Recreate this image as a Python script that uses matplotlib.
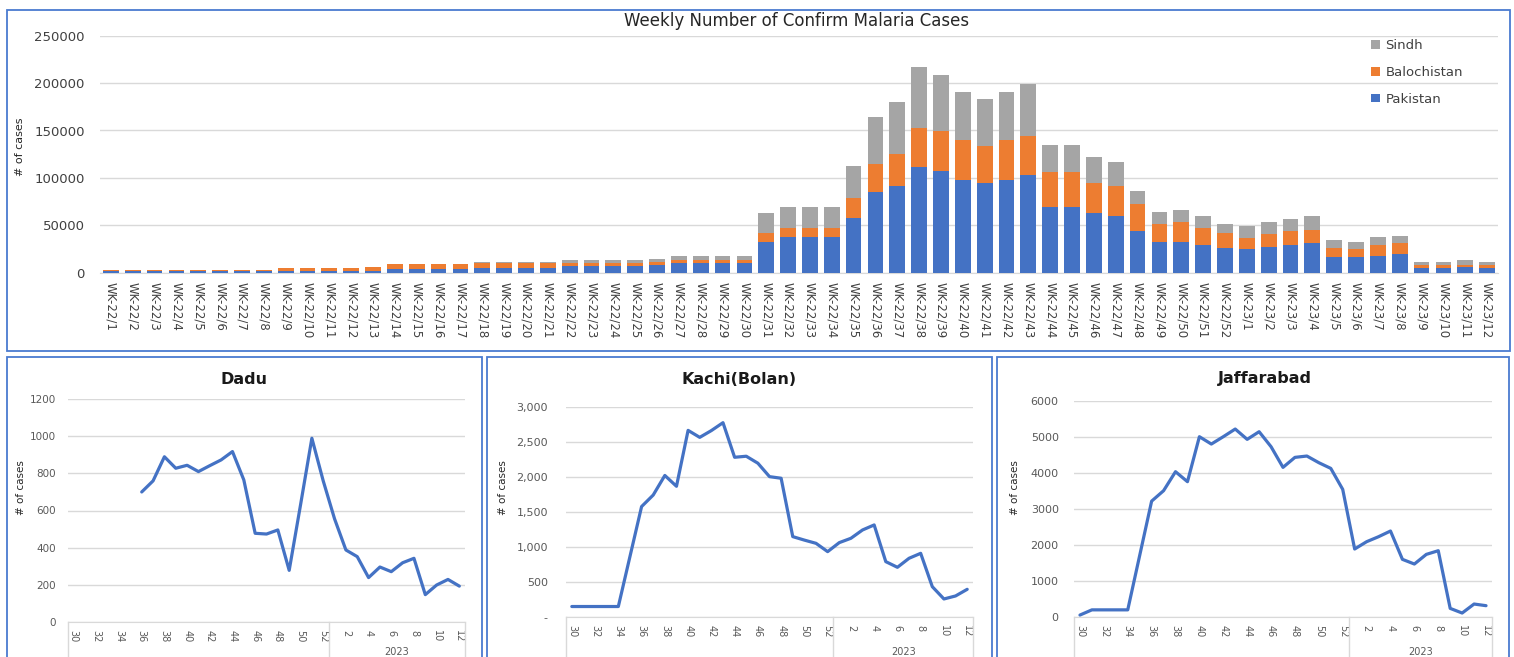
import matplotlib
matplotlib.use("Agg")
import matplotlib.pyplot as plt
import numpy as np
from matplotlib.patches import Rectangle
from matplotlib.ticker import FuncFormatter, MultipleLocator
import matplotlib.transforms as mtransforms

# ---------------- data ----------------
week_labels = [f"WK-22/{i}" for i in range(1, 53)] + [f"WK-23/{i}" for i in range(1, 13)]

pakistan = [2300, 2300, 2300, 2300, 2300, 2300, 2300, 2300,
            2100, 2100, 2100, 2100, 2100,
            3900, 3900, 3900, 3900,
            5300, 5300, 5300, 5300,
            6700, 6700, 6700, 6700, 8100,
            9800, 9800, 9800, 9800,
            32300, 37300, 37300, 37300, 58000, 85100, 91800, 111100, 107600,
            98100, 94900, 98100, 103000, 68900, 68900, 62900, 59800, 43600,
            32300, 32300, 29200, 26000,
            24600, 27400, 29200, 30900, 16200, 16200, 17900, 19700,
            5300, 5300, 6300, 5300]
balochistan = [500, 500, 500, 500, 500, 500, 500, 500,
               2800, 2800, 2800, 2800, 4200,
               5600, 5600, 5600, 5600,
               5000, 5000, 5000, 5000,
               3500, 3500, 3500, 3500, 3500,
               3600, 3600, 3600, 3600,
               9500, 9500, 9500, 9500, 20800, 29200, 33700, 41900, 41800,
               41800, 38700, 41800, 41500, 36900, 36900, 32000, 32000, 28800,
               19000, 20800, 17600, 15800,
               12300, 13000, 14400, 14500, 9800, 8400, 11300, 11200,
               2800, 2800, 1800, 2800]
sindh = [0, 0, 0, 0, 0, 0, 0, 0,
         0, 0, 0, 0, 0,
         0, 0, 0, 0,
         500, 500, 500, 500,
         2800, 2800, 2800, 2800, 3200,
         4200, 4200, 4200, 4200,
         20800, 22100, 22100, 22100, 33700, 49600, 54200, 63600, 59100,
         51000, 49200, 51000, 54500, 28900, 28900, 27100, 25300, 14100,
         13000, 12600, 12600, 9500,
         12700, 12700, 12700, 14000, 8100, 7700, 8100, 7800,
         3200, 3200, 4900, 3200]

# district panels: weeks 30..52 of 2022 then 1..12 of 2023
district_weeks = [30, 31, 32, 33, 34, 35, 36, 37, 38, 39, 40, 41, 42, 43, 44, 45,
                  46, 47, 48, 49, 50, 51, 52, 1, 2, 3, 4, 5, 6, 7, 8, 9, 10, 11, 12]
dadu = [np.nan, np.nan, np.nan, np.nan, np.nan, np.nan,
        700, 760, 890, 828, 844, 810, 842, 873, 918, 765, 477, 473, 495, 277,
        630, 990, 760, 555,
        387, 351, 238, 295, 270, 318, 342, 146, 198, 228, 192]
kachi = [150, 150, 150, 150, 150, 865,
         1580, 1745, 2025, 1870, 2670, 2570, 2667, 2780, 2285, 2300, 2200, 2008, 1985, 1150,
         1100, 1054, 935, 1064,
         1126, 1245, 1317, 792, 711, 840, 911, 434, 258, 301, 396]
jaffarabad = [46, 190, 190, 190, 190, 1700,
              3210, 3500, 4028, 3750, 5000, 4796, 5000, 5213, 4926, 5139, 4722, 4148, 4426, 4463,
              4278, 4120, 3537, 1880,
              2083, 2222, 2380, 1593, 1463, 1731, 1833, 231, 102, 352, 306]

# ---------------- styles ----------------
W, H = 1514, 657
BLUE = "#4472C4"
ORANGE = "#ED7D31"
GRAY = "#A5A5A5"
GRID = "#D9D9D9"
TXT = "#595959"
BORDER = "#4A7BD0"

plt.rcParams["font.family"] = ["DejaVu Sans"]

fig = plt.figure(figsize=(W / 100, H / 100), dpi=100)
fig.patch.set_facecolor("white")


def px_axes(x0, x1, ytop, ybot):
    return fig.add_axes([x0 / W, 1 - ybot / H, (x1 - x0) / W, (ybot - ytop) / H])


def fig_text(x, y, s, **kw):
    fig.text(x / W, 1 - y / H, s, **kw)


def panel(x0, x1, y0, y1):
    fig.add_artist(Rectangle((x0 / W, 1 - y1 / H), (x1 - x0) / W, (y1 - y0) / H,
                             transform=fig.transFigure, fill=False,
                             edgecolor=BORDER, linewidth=1.3, clip_on=False))


# ---------------- panels ----------------
panel(7, 1510, 10, 351)
panel(7, 482, 357, 700)
panel(487, 992, 357, 700)
panel(997, 1509, 357, 700)

# ---------------- top stacked bar chart ----------------
ax = px_axes(100, 1498, 35.7, 272.7)
x = np.arange(len(week_labels))
pak = np.array(pakistan)
bal = np.array(balochistan)
sin = np.array(sindh)
bw = 0.72
b1 = ax.bar(x, pak, width=bw, color=BLUE, label="Pakistan", zorder=3)
b2 = ax.bar(x, bal, width=bw, bottom=pak, color=ORANGE, label="Balochistan", zorder=3)
b3 = ax.bar(x, sin, width=bw, bottom=pak + bal, color=GRAY, label="Sindh", zorder=3)
ax.set_xlim(-0.5, len(week_labels) - 0.5)
ax.set_ylim(0, 250000)
ax.yaxis.set_major_locator(MultipleLocator(50000))
ax.set_xticks(x)
ax.set_xticklabels(week_labels, rotation=270, fontsize=8.5, color="#404040")
ax.tick_params(axis="x", length=0, pad=7)
ax.tick_params(axis="y", length=0, pad=11, labelsize=9.5, labelcolor="#404040")
ax.grid(axis="y", color=GRID, linewidth=1, zorder=0)
ax.set_axisbelow(True)
for s in ("top", "right", "left"):
    ax.spines[s].set_visible(False)
ax.spines["bottom"].set_color(GRID)
ax.legend(handles=[b3, b2, b1], loc="upper left",
          bbox_to_anchor=(1371 / W, 1 - 39 / H), bbox_transform=fig.transFigure,
          frameon=False, fontsize=9.5, handlelength=0.65, handleheight=0.65,
          handletextpad=0.45, labelspacing=1.05, borderpad=0, borderaxespad=0,
          labelcolor="#404040")
fig_text(797, 21, "Weekly Number of Confirm Malaria Cases", fontsize=12,
         ha="center", va="center", color="#262626")
fig_text(20, 147, "# of cases", fontsize=8, rotation=90, ha="center", va="center",
         color="#262626")

# ---------------- district line charts ----------------
tick_pos = [i for i in range(len(district_weeks)) if district_weeks[i] % 2 == 0]
tick_lab = [str(district_weeks[i]) for i in tick_pos]


def district(ax, data, ymax, step, fmt, ysize, ypad):
    xx = np.arange(len(district_weeks))
    ax.plot(xx, data, color=BLUE, linewidth=2.3, zorder=3, solid_capstyle="round")
    ax.set_xlim(-0.5, len(district_weeks) - 0.5)
    ax.set_ylim(0, ymax)
    ax.yaxis.set_major_locator(MultipleLocator(step))
    ax.yaxis.set_major_formatter(FuncFormatter(fmt))
    ax.set_xticks(tick_pos)
    ax.set_xticklabels(tick_lab, rotation=270, fontsize=7, color=TXT)
    ax.tick_params(axis="x", length=0, pad=6)
    ax.tick_params(axis="y", length=0, pad=ypad, labelsize=ysize, labelcolor=TXT)
    ax.grid(axis="y", color=GRID, linewidth=1, zorder=0)
    ax.set_axisbelow(True)
    for s in ("top", "right", "left"):
        ax.spines[s].set_visible(False)
    ax.spines["bottom"].set_color(GRID)
    tr = mtransforms.blended_transform_factory(ax.transData, ax.transAxes)
    for xv in (-0.5, 22.5, len(district_weeks) - 0.5):
        ax.plot([xv, xv], [0, -0.4], transform=tr, color=GRID, linewidth=1,
                clip_on=False)
    trf = mtransforms.blended_transform_factory(ax.transData, fig.transFigure)
    ax.text(28.5, 1 - 647 / H, "2023", transform=trf, ha="center", va="top",
            fontsize=7, color=TXT)


plain = lambda v, p: f"{int(v)}"
comma = lambda v, p: "-" if v == 0 else f"{int(v):,}"

ax1 = px_axes(68, 465, 399.3, 621.7)
district(ax1, dadu, 1200, 200, plain, 7.5, 8.5)
fig_text(244, 379, "Dadu", fontsize=11.5, fontweight="bold", ha="center", va="center",
         color="#1a1a1a")
fig_text(21, 488, "# of cases", fontsize=7.5, rotation=90, ha="center", va="center",
         color="#262626")

ax2 = px_axes(566, 973, 407.3, 617)
district(ax2, kachi, 3000, 500, comma, 8, 13)
fig_text(739, 380, "Kachi(Bolan)", fontsize=11.5, fontweight="bold", ha="center",
         va="center", color="#1a1a1a")
fig_text(503, 488, "# of cases", fontsize=7.5, rotation=90, ha="center", va="center",
         color="#262626")

ax3 = px_axes(1074, 1492, 400.7, 616.7)
district(ax3, jaffarabad, 6000, 1000, plain, 8, 11)
fig_text(1265, 379, "Jaffarabad", fontsize=11.5, fontweight="bold", ha="center",
         va="center", color="#1a1a1a")
fig_text(1015, 488, "# of cases", fontsize=7.5, rotation=90, ha="center", va="center",
         color="#262626")

fig.savefig("out.png", dpi=100, facecolor="white")
